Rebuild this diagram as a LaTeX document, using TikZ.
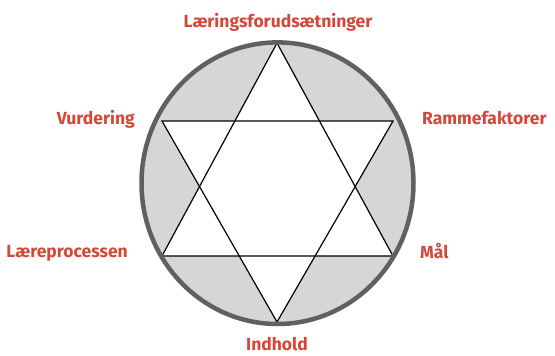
\documentclass[tikz,border=0pt]{standalone}
\usepackage{fontspec}
\setmainfont{Fira Sans}
\definecolor{labelred}{RGB}{212,72,58}
\definecolor{ringgray}{RGB}{96,96,96}
\definecolor{shadegray}{RGB}{214,214,214}
\begin{document}
\begin{tikzpicture}[x=1pt,y=1pt,
  lbl/.style={text=labelred,font=\fontsize{17.5}{20}\selectfont\bfseries,inner sep=0pt},
  starline/.style={draw=black,line width=1.2pt,line join=miter}]
\useasboundingbox (0,0) rectangle (555,356);
\coordinate (c) at (277.5,172.8);
\coordinate (t) at (277,313);
\coordinate (b) at (277,34);
\coordinate (ul) at (162,235);
\coordinate (ur) at (393,235);
\coordinate (ll) at (162,100);
\coordinate (lr) at (393,100);
\fill[shadegray] (c) ellipse [x radius=135, y radius=140];
\fill[white] (t) -- (ll) -- (lr) -- cycle;
\fill[white] (b) -- (ul) -- (ur) -- cycle;
\draw[starline] (t) -- (ll) -- (lr) -- cycle;
\draw[starline] (b) -- (ul) -- (ur) -- cycle;
\draw[ringgray,line width=4.5pt] (c) ellipse [x radius=136, y radius=140.8];
\node[lbl,anchor=base] (l1) at (278,328) {Læringsforudsætninger};
\node[lbl,anchor=base east] (l2) at (135,231) {Vurdering};
\node[lbl,anchor=base west] (l3) at (422,231) {Rammefaktorer};
\node[lbl,anchor=base east] (l4) at (128,98) {Læreprocessen};
\node[lbl,anchor=base west] (l5) at (420,97) {Mål};
\node[lbl,anchor=base] (l6) at (277,5) {Indhold};
\end{tikzpicture}
\end{document}
